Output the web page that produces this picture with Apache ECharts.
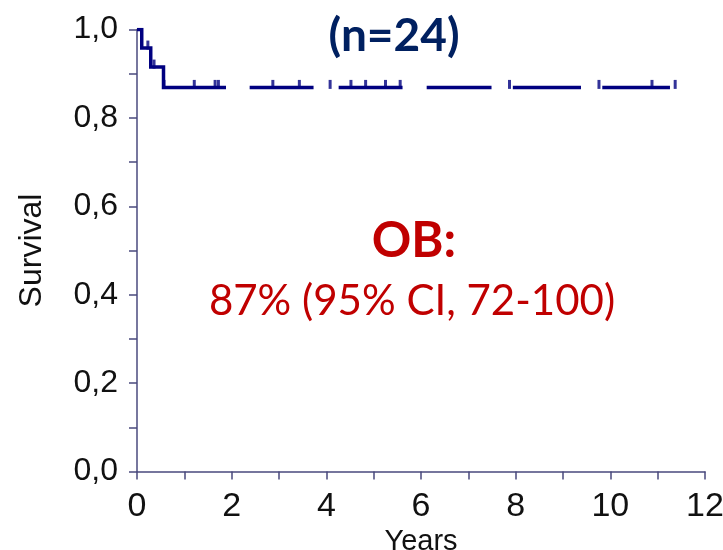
<!DOCTYPE html>
<html><head><meta charset="utf-8">
<script src="https://cdn.jsdelivr.net/npm/echarts@6/dist/echarts.min.js"></script>
<style>html,body{margin:0;padding:0;background:#fff}#c{width:723px;height:550px}</style>
</head><body><div id="c"></div>
<script>
// Kaplan-Meier step points (time in years, survival after the step)
var stepTimes = [0, 0.10, 0.29, 0.56];
var stepSurv = [1.0, 0.958, 0.915, 0.869];
// censored observations (years)
var censorTimes = [0.23, 0.36, 0.57, 1.21, 1.65, 1.72, 2.87, 3.43, 4.08, 4.52, 4.83, 5.25, 5.56, 7.87, 9.76, 10.88, 11.37];
// drawn stretches of the curve (the reference line shows gaps)
var segStarts = [0, 2.38, 4.26, 6.12, 7.94, 9.83];
var segEnds = [1.88, 3.73, 5.61, 7.49, 9.38, 11.26];
var xTicks = [0, 2, 4, 6, 8, 10, 12];
var yTicks = [0, 0.2, 0.4, 0.6, 0.8, 1.0];
var titleText = '(n=24)';
var obLabel = 'OB:';
var obValue = '87% (95% CI, 72-100)';

function S(t) {
  var s = stepSurv[0];
  for (var i = 0; i < stepTimes.length; i++) if (stepTimes[i] <= t) s = stepSurv[i];
  return s;
}

var navy = '#000080';
var series = [];
for (var k = 0; k < segStarts.length; k++) {
  var a = segStarts[k], b = segEnds[k];
  var pts = [[a, S(a)]];
  for (var i = 1; i < stepTimes.length; i++) {
    var t = stepTimes[i];
    if (t > a && t <= b) { pts.push([t, stepSurv[i - 1]]); pts.push([t, stepSurv[i]]); }
  }
  pts.push([b, S(b)]);
  series.push({
    type: 'line', data: pts, showSymbol: false, silent: true,
    lineStyle: { color: navy, width: 3.5, cap: 'butt', join: 'miter' }
  });
}
series.push({
  type: 'scatter', silent: true,
  data: censorTimes.map(function (t) { return [t, S(t)]; }),
  symbol: 'rect', symbolSize: [3, 9], symbolOffset: [0, -3],
  itemStyle: { color: navy }
});

var chart = echarts.init(document.getElementById('c'), null, { renderer: 'canvas' });
var axisCol = '#4a4a7e';
chart.setOption({
  animation: false,
  grid: { left: 137, right: 18, top: 29.5, bottom: 78.5, containLabel: false, outerBoundsMode: 'none' },
  xAxis: {
    type: 'value', min: 0, max: 12, interval: 1,
    name: 'Years', nameLocation: 'middle', nameGap: 56, nameMoveOverlap: false,
    nameTextStyle: { fontFamily: 'Liberation Sans', fontSize: 29, color: '#111', verticalAlign: 'top' },
    axisLine: { onZero: false, lineStyle: { color: axisCol, width: 1.5 } },
    axisTick: { show: true, length: 8, inside: false, lineStyle: { color: axisCol, width: 1.5 } },
    axisLabel: {
      margin: 18, fontFamily: 'Liberation Sans', fontSize: 34, color: '#111',
      formatter: function (v) { return xTicks.indexOf(Math.round(v)) >= 0 && Math.abs(v - Math.round(v)) < 1e-6 ? String(Math.round(v)) : ''; }
    },
    splitLine: { show: false }
  },
  yAxis: {
    type: 'value', min: 0, max: 1, interval: 0.1,
    name: 'Survival', nameLocation: 'middle', nameGap: 89, nameRotate: 90, nameMoveOverlap: false,
    nameTextStyle: { fontFamily: 'Liberation Sans', fontSize: 32, color: '#111' },
    axisLine: { show: true, lineStyle: { color: axisCol, width: 1.5 } },
    axisTick: { show: true, length: 8, inside: false, lineStyle: { color: axisCol, width: 1.5 } },
    axisLabel: {
      margin: 19, fontFamily: 'Liberation Sans', fontSize: 32, color: '#111',
      formatter: function (v) {
        for (var i = 0; i < yTicks.length; i++) if (Math.abs(v - yTicks[i]) < 1e-6) return yTicks[i].toFixed(1).replace('.', ',');
        return '';
      }
    },
    splitLine: { show: false }
  },
  graphic: [
    { type: 'text', x: 394, y: 13, style: { text: titleText, fill: '#002060', font: 'bold 46px Lato', textAlign: 'center' } },
    { type: 'text', x: 414, y: 217, style: { text: obLabel, fill: '#C00000', font: 'bold 49px Lato', textAlign: 'center' } },
    { type: 'text', x: 412, y: 280, style: { text: obValue, fill: '#C00000', font: '42px Lato', textAlign: 'center' } }
  ],
  series: series
});
</script></body></html>
